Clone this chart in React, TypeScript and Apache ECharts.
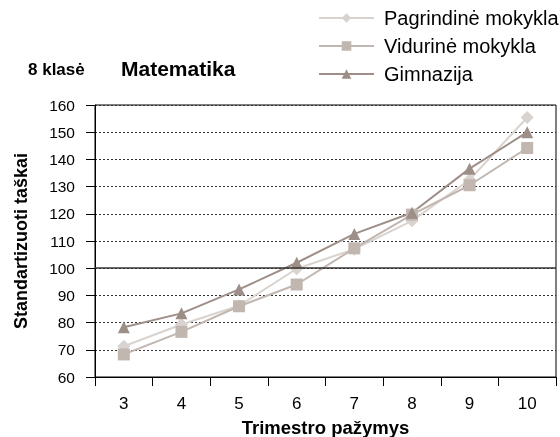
import React, { useEffect, useRef } from "react";
import * as echarts from "echarts";

const categories = ["3", "4", "5", "6", "7", "8", "9", "10"];
const pagrindine = [71.3, 79.3, 86.2, 99.8, 107, 117.4, 132.5, 155.4];
const vidurine = [68.3, 76.6, 86, 94, 107.3, 119.7, 130.5, 144.2];
const gimnazija = [78.3, 83.4, 92.2, 102, 112.6, 120.4, 136.6, 150];
const seriesNames = ["Pagrindinė mokykla", "Vidurinė mokykla", "Gimnazija"];

const FONT = "'Liberation Sans', Arial, sans-serif";

export default function App() {
  const ref = useRef<HTMLDivElement>(null);
  useEffect(() => {
    if (!ref.current) return;
    const chart = echarts.init(ref.current, null, { renderer: "svg" });
    const mk = (name: string, data: number[], color: string, symbol: string, size: number, extra: any = {}) => ({
      name,
      type: "line",
      data,
      symbol,
      symbolSize: size,
      showSymbol: true,
      lineStyle: { color, width: 2 },
      itemStyle: { color, borderWidth: 0 },
      emphasis: { disabled: true },
      ...extra,
    });
    chart.setOption({
      animation: false,
      textStyle: { fontFamily: FONT },
      grid: {
        left: 95, right: 4, top: 105, bottom: 60,
        outerBoundsMode: "none",
        containLabel: false,
        show: true, borderColor: "#000", borderWidth: 1, backgroundColor: "transparent",
      },
      legend: {
        orient: "vertical",
        left: 318,
        top: 8,
        padding: 0,
        itemWidth: 55,
        itemHeight: 12,
        itemGap: 8,
        textStyle: { fontSize: 20, color: "#000", fontFamily: FONT, padding: [0, 0, 0, 5] },
        data: seriesNames,
      },
      graphic: [
        { type: "text", x: 28, y: 69, style: { text: "8 klasė", font: `bold 17px ${FONT}`, fill: "#000", verticalAlign: "middle" } },
        { type: "text", x: 121, y: 68, style: { text: "Matematika", font: `bold 21px ${FONT}`, fill: "#000", verticalAlign: "middle" } },
      ],
      xAxis: {
        type: "category",
        data: categories,
        boundaryGap: true,
        axisLine: { lineStyle: { color: "#000" } },
        axisTick: { show: true, length: 9, inside: false, lineStyle: { color: "#000" } },
        axisLabel: { fontSize: 17, color: "#000", margin: 18, fontFamily: FONT },
        name: "Trimestro pažymys",
        nameLocation: "middle",
        nameGap: 41,
        nameTextStyle: { fontSize: 18.5, fontWeight: "bold", color: "#000", fontFamily: FONT },
      },
      yAxis: {
        type: "value",
        min: 60,
        max: 160,
        interval: 10,
        axisLine: { show: true, lineStyle: { color: "#000" } },
        axisTick: { show: true, length: 9, lineStyle: { color: "#000" } },
        axisLabel: { fontSize: 15.5, color: "#000", margin: 20, fontFamily: FONT },
        splitLine: { show: true, lineStyle: { color: "#333", type: [2, 2], width: 1 } },
        name: "Standartizuoti taškai",
        nameLocation: "middle",
        nameGap: 65,
        nameRotate: 90,
        nameTextStyle: { fontSize: 18, fontWeight: "bold", color: "#000", fontFamily: FONT },
      },
      series: [
        mk(seriesNames[0], pagrindine, "#d9d3cf", "diamond", 13, {
          markLine: {
            silent: true,
            symbol: "none",
            label: { show: false },
            lineStyle: { color: "#333", type: "solid", width: 1.5 },
            data: [{ yAxis: 100 }],
          },
        }),
        mk(seriesNames[1], vidurine, "#c1b6b0", "rect", 12),
        mk(seriesNames[2], gimnazija, "#9d8e87", "triangle", 12),
      ],
    });
    return () => chart.dispose();
  }, []);
  return <div ref={ref} style={{ position: "fixed", left: 0, top: 0, width: 560, height: 437 }} />;
}
